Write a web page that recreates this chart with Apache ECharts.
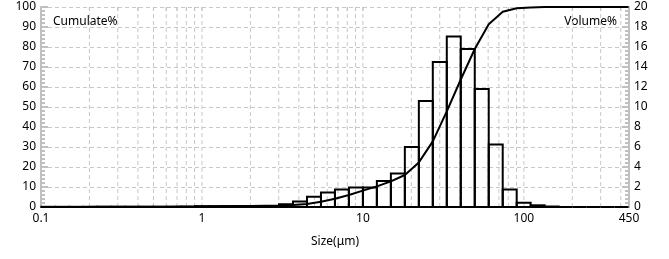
<!DOCTYPE html>
<html>
<head>
<meta charset="utf-8">
<script src="https://cdn.jsdelivr.net/npm/echarts@6/dist/echarts.min.js"></script>
<style>
html,body{margin:0;padding:0;background:#fff;}
#chart{width:669px;height:259px;}
</style>
</head>
<body>
<div id="chart"></div>
<script>
// Bin edges (µm), log-spaced
const binEdges = [0.1005,0.1228,0.1500,0.1832,0.2237,0.2732,0.3337,0.4076,0.4979,0.6081,0.7427,0.9072,
  1.108,1.353,1.653,2.019,2.466,3.012,3.679,4.493,5.488,6.703,8.187,10,12.21,14.92,18.22,22.26,27.18,
  33.20,40.55,49.53,60.50,73.89,90.25,110.2,134.6,164.5,200.9,245.3,299.7,366.0,447.0];
// Volume % per bin (42 bins)
const volume = [0.02,0.02,0.02,0.02,0.02,0.02,0.02,0.02,0.02,0.02,0.02,
  0.085,0.085,0.085,0.085,0.085,0.085,
  0.27,0.55,1.03,1.44,1.74,1.94,1.95,2.6,3.35,6.0,10.6,14.5,17.05,15.8,11.8,6.26,1.74,0.43,0.17,0.05,
  0,0,0,0,0];
// Cumulative % at each bin edge
const cumulate = [0,0.02,0.04,0.06,0.08,0.10,0.12,0.14,0.16,0.18,0.20,0.22,
  0.31,0.39,0.48,0.56,0.65,0.73,1.0,1.55,2.58,4.1,6.0,8.2,10.3,12.8,16.0,22.3,32.8,
  47.8,63.75,79.0,91.35,97.61,99.35,99.78,99.95,100,100,100,100,100,100];
const xTickLabels = [0.1,1,10,100,450];
const gridXs = [0.2,0.3,0.4,0.5,0.6,0.7,0.8,0.9,1,2,3,4,5,6,7,8,9,10,20,30,40,50,60,70,80,90,100,200,300,400];

const FONT = 'Noto Sans';
const chart = echarts.init(document.getElementById('chart'), null, {renderer:'canvas'});

const bars = volume.map((v,i)=>[binEdges[i], binEdges[i+1], v]);
const cumData = binEdges.map((e,i)=>[e, cumulate[i]]);

const axisGray = '#c0c0c0';
const gridColor = '#c8c8c8';

chart.setOption({
  animation:false,
  backgroundColor:'#fff',
  grid:{left:41, right:40, top:7, height:200},
  xAxis:[{
    type:'log', logBase:10, min:0.1, max:450,
    axisLine:{show:true, onZero:false, lineStyle:{color:axisGray, width:2}},
    axisTick:{show:false},
    splitLine:{show:false},
    minorTick:{show:false},
    axisLabel:{
      color:'#000', fontFamily:FONT, fontSize:12, margin:6,
      showMinLabel:true, showMaxLabel:true,
      customValues: xTickLabels,
      formatter:(v)=>String(+v.toPrecision(6))
    },
    name:'Size(μm)', nameLocation:'middle', nameGap:29,
    nameTextStyle:{color:'#000', fontFamily:FONT, fontSize:12}
  },{
    type:'log', logBase:10, min:0.1, max:450, position:'top',
    axisLine:{show:true, lineStyle:{color:axisGray, width:2}},
    axisTick:{show:false}, axisLabel:{show:false}, splitLine:{show:false}
  }],
  yAxis:[{
    type:'value', min:0, max:100, interval:10, position:'left',
    axisLine:{show:true, lineStyle:{color:axisGray, width:2}},
    axisTick:{show:true, inside:true, length:7, lineStyle:{color:axisGray, width:2}},
    minorTick:{show:true, splitNumber:5, length:4, lineStyle:{color:axisGray, width:2}},
    splitLine:{show:true, lineStyle:{color:gridColor, type:[4,3], width:1}},
    axisLabel:{color:'#000', fontFamily:FONT, fontSize:12, margin:5}
  },{
    type:'value', min:0, max:20, interval:2, position:'right',
    axisLine:{show:true, lineStyle:{color:axisGray, width:2}},
    axisTick:{show:true, inside:true, length:7, lineStyle:{color:axisGray, width:2}},
    minorTick:{show:true, splitNumber:5, length:4, lineStyle:{color:axisGray, width:2}},
    splitLine:{show:false},
    axisLabel:{color:'#000', fontFamily:FONT, fontSize:12, margin:5}
  }],
  graphic:[
    {type:'text', left:53, top:16, style:{text:'Cumulate%', font:'12px "Noto Sans"', fill:'#000'}},
    {type:'text', right:52, top:16, style:{text:'Volume%', font:'12px "Noto Sans"', fill:'#000'}}
  ],
  series:[
    {
      type:'custom', name:'grid', xAxisIndex:0, yAxisIndex:0, z:1, silent:true,
      data: gridXs.map(x=>[x]),
      renderItem:(params, api)=>{
        const x = api.value(0);
        const p0 = api.coord([x,0]);
        const p1 = api.coord([x,100]);
        return {type:'group', children:[
          {type:'line', shape:{x1:p0[0], y1:p0[1], x2:p1[0], y2:p1[1]},
            style:{stroke:gridColor, lineWidth:1, lineDash:[4,3]}},
          {type:'line', shape:{x1:p1[0], y1:p1[1], x2:p1[0], y2:p1[1]+4},
            style:{stroke:axisGray, lineWidth:1}}
        ]};
      }
    },
    {
      type:'custom', name:'Volume%', xAxisIndex:0, yAxisIndex:1, z:3, silent:true,
      data: bars,
      renderItem:(params, api)=>{
        const a = api.coord([api.value(0), api.value(2)]);
        const b = api.coord([api.value(1), 0]);
        return {type:'rect', shape:{x:a[0], y:a[1], width:b[0]-a[0], height:b[1]-a[1]},
          style:{fill:'none', stroke:'#000', lineWidth:2}};
      }
    },
    {
      type:'line', name:'Cumulate%', xAxisIndex:0, yAxisIndex:0, z:4,
      data: cumData, showSymbol:false, symbol:'none',
      lineStyle:{color:'#000', width:2}
    }
  ]
});
</script>
</body>
</html>
